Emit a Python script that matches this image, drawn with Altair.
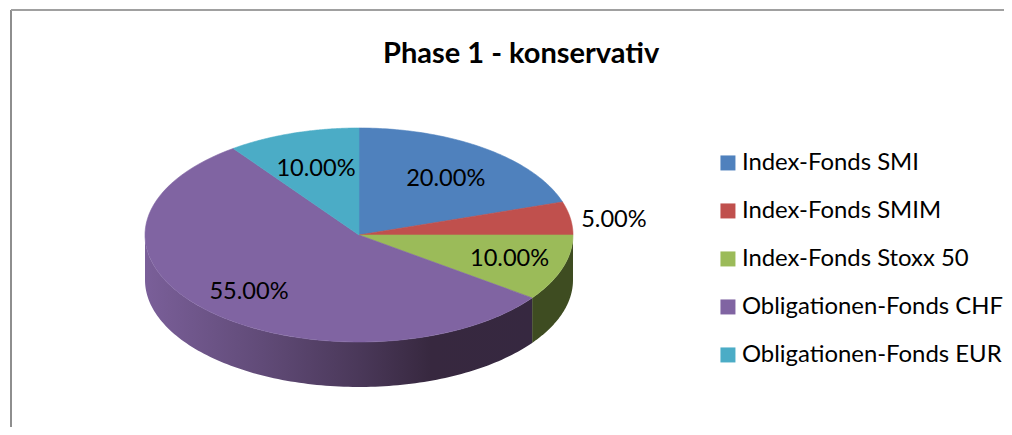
import numpy as np
import pandas as pd
import altair as alt

title = "Phase 1 - konservativ"
categories = ["Index-Fonds SMI", "Index-Fonds SMIM", "Index-Fonds Stoxx 50",
              "Obligationen-Fonds CHF", "Obligationen-Fonds EUR"]
shares = [20.0, 5.0, 10.0, 55.0, 10.0]
colors = ["#4f81bd", "#c0504d", "#9bbb59", "#8064a2", "#4bacc6"]
label_radius = [0.69, 1.206, 0.74, 0.727, 0.65]
label_nudge_y = [-0.02, -0.03, 0.02, 0.0, 0.02]

W, H = 996, 419
CX, CY, RX, RY, DEPTH = 351, 227, 214, 107, 45
FONT = "Lato"

edges = np.concatenate([[0], np.cumsum(shares)]) / 100 * 2 * np.pi


def px(t):
    return np.sin(t)


def py(t):
    return np.cos(t)


rows = []
for k, c in enumerate(categories):
    ts = np.linspace(edges[k], edges[k + 1], 80)
    rows.append(dict(cat=c, i=-1, x=0.0, y=0.0))
    for j, t in enumerate(ts):
        rows.append(dict(cat=c, i=j, x=px(t), y=py(t)))
    rows.append(dict(cat=c, i=999, x=0.0, y=0.0))
top = pd.DataFrame(rows)

labels = []
for k, s in enumerate(shares):
    t = (edges[k] + edges[k + 1]) / 2
    labels.append(dict(x=px(t) * label_radius[k],
                       y=py(t) * label_radius[k] + label_nudge_y[k],
                       txt=f"{s:.2f}%"))
labels = pd.DataFrame(labels)


def side(t0, t1):
    ts = np.linspace(t0, t1, 120)
    d = DEPTH / RY
    return pd.DataFrame(dict(x=px(ts), y=py(ts), y2=py(ts) - d))


xs = alt.Scale(domain=[-CX / RX, (W - CX) / RX], nice=False, zero=False)
ys = alt.Scale(domain=[-(H - CY) / RY, CY / RY], nice=False, zero=False)
X = alt.X("x:Q", scale=xs, axis=None)
Y = alt.Y("y:Q", scale=ys, axis=None)

grad_purple = alt.LinearGradient(
    gradient="linear", x1=0, x2=1, y1=0, y2=0,
    stops=[alt.GradientStop(offset=0, color="#7a5f99"),
           alt.GradientStop(offset=0.3, color="#614b78"),
           alt.GradientStop(offset=0.555, color="#4a3859"),
           alt.GradientStop(offset=0.74, color="#37283f"),
           alt.GradientStop(offset=1, color="#362840")])

side_green = alt.Chart(side(edges[2], edges[3])).mark_area(color="#3e4c21").encode(
    x=X, y=Y, y2="y2:Q")
side_purple = alt.Chart(side(edges[3], np.pi * 1.5)).mark_area(color=grad_purple).encode(
    x=X, y=Y, y2="y2:Q")

cs = alt.Scale(domain=categories, range=colors)
slices = alt.Chart(top).mark_line(strokeWidth=0.6, interpolate="linear").encode(
    x=X, y=Y,
    order=alt.Order("i:Q"),
    stroke=alt.Stroke("cat:N", scale=cs, legend=None),
    fill=alt.Fill("cat:N", scale=cs, legend=alt.Legend(
        title=None, orient="none", legendX=708, legendY=143,
        symbolType="square", symbolSize=225, symbolStrokeWidth=0,
        labelFont=FONT, labelFontSize=23.9, labelColor="#000000", labelLimit=320,
        labelOffset=2, rowPadding=23)),
)

text = alt.Chart(labels).mark_text(font=FONT, fontSize=23.6, color="#000000", dy=2).encode(
    x=X, y=Y, text="txt:N")

frame_l = alt.Chart(pd.DataFrame({"a": [0]})).mark_rule(color="#8e8e8e", strokeWidth=2).encode(
    x=alt.value(3), y=alt.value(2), y2=alt.value(H))
frame_t = alt.Chart(pd.DataFrame({"a": [0]})).mark_rule(color="#a0a0a0", strokeWidth=2).encode(
    y=alt.value(2), x=alt.value(3), x2=alt.value(W))

chart = alt.layer(frame_l, frame_t, side_green, side_purple, slices, text).properties(
    width=W, height=H, padding=0, autosize=alt.AutoSizeParams(type="none"),
    title=alt.TitleParams(title, font=FONT, fontSize=29, fontWeight="bold", color="#000000",
                          anchor="start", frame="group", dx=375, dy=61, offset=0),
).configure_view(stroke=None).resolve_scale(x="shared", y="shared")

chart.save("out.html", embed_options={"renderer": "svg", "actions": False})
